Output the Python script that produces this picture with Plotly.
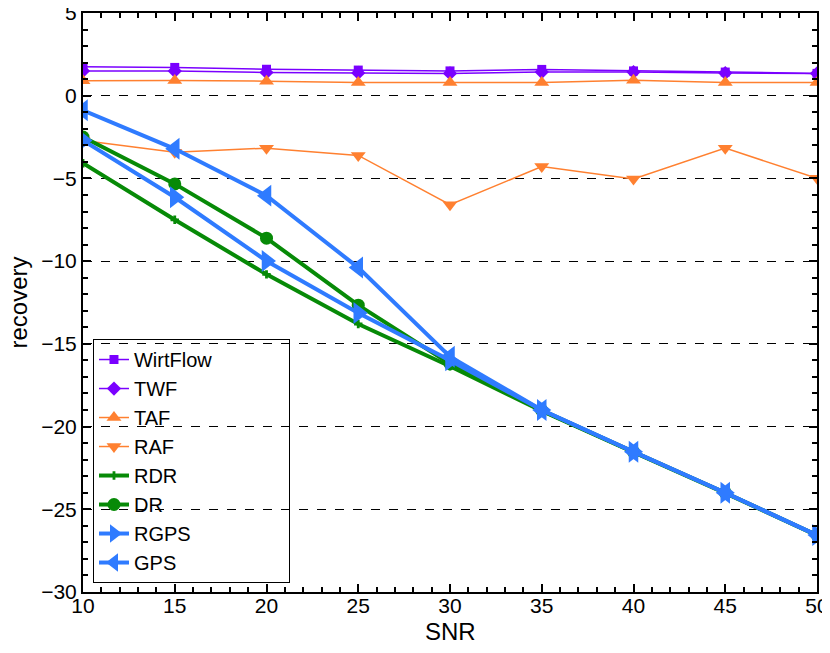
import plotly.graph_objects as go

# SNR values on the x axis
snr = [10, 15, 20, 25, 30, 35, 40, 45, 50]

# recovery per method
wirtflow = [1.75, 1.71, 1.60, 1.55, 1.50, 1.59, 1.50, 1.43, 1.35]
twf = [1.50, 1.49, 1.41, 1.38, 1.35, 1.43, 1.43, 1.37, 1.35]
taf = [0.90, 0.92, 0.88, 0.80, 0.80, 0.80, 0.94, 0.80, 0.80]
raf = [-2.70, -3.41, -3.17, -3.61, -6.59, -4.28, -5.03, -3.17, -4.99]
rdr = [-4.08, -7.50, -10.80, -13.80, -16.35, -19.05, -21.55, -24.02, -26.58]
dr = [-2.50, -5.33, -8.61, -12.66, -16.20, -19.02, -21.53, -24.00, -26.56]
rgps = [-2.70, -6.14, -9.99, -13.13, -16.00, -19.00, -21.52, -24.00, -26.56]
gps = [-0.88, -3.21, -6.04, -10.39, -15.78, -19.00, -21.52, -24.00, -26.56]

purple = "#7A00FF"
orange = "#FF8030"
green = "#078A07"
blue = "#2F7BFF"

series = [
    ("WirtFlow", wirtflow, purple, 1.5, "square", 9),
    ("TWF", twf, purple, 1.5, "diamond", 11),
    ("TAF", taf, orange, 1.5, "triangle-up", 13),
    ("RAF", raf, orange, 1.5, "triangle-down", 13),
    ("RDR", rdr, green, 4, "cross", 7),
    ("DR", dr, green, 4, "circle", 13),
    ("RGPS", rgps, blue, 4, "triangle-right", 19),
    ("GPS", gps, blue, 4, "triangle-left", 19),
]

fig = go.Figure()
for name, vals, color, lw, sym, size in series:
    # trailing non-breaking spaces widen the legend box like the reference
    label = name + "\u00a0" * 13 if name == "WirtFlow" else name
    fig.add_trace(go.Scatter(
        x=snr, y=vals, name=label, mode="lines+markers",
        line=dict(color=color, width=lw),
        marker=dict(symbol=sym, size=size, color=color, line=dict(width=0)),
        legendgroup=name,
    ))

family = "Liberation Sans, Arial, sans-serif"

# the page body adds an 8px margin, so the figure is shifted to match
fig.update_layout(
    width=822, height=637,
    margin=dict(l=75, r=13, t=5, b=53),
    paper_bgcolor="white", plot_bgcolor="white",
    font=dict(family=family, size=21, color="black"),
    showlegend=True,
    legend=dict(
        x=0.0136, y=0.0155, xanchor="left", yanchor="bottom",
        bgcolor="rgba(0,0,0,0)", bordercolor="black", borderwidth=1,
        traceorder="grouped", tracegroupgap=0,
        font=dict(family=family, size=20, color="black"),
    ),
    annotations=[
        dict(text="SNR", x=0.5, y=0, xref="paper", yref="paper",
             xanchor="center", yanchor="middle", yshift=-39, showarrow=False,
             font=dict(family=family, size=24, color="black")),
        dict(text="recovery", x=0, y=0.5, xref="paper", yref="paper",
             xanchor="center", yanchor="middle", xshift=-65, textangle=-90,
             showarrow=False, font=dict(family=family, size=24, color="black")),
    ],
)

fig.update_xaxes(
    range=[10, 50], dtick=5, tick0=10, automargin=False,
    ticklabeloverflow="allow", ticklabelstandoff=-6,
    showline=True, linecolor="black", linewidth=2, mirror="ticks",
    ticks="inside", ticklen=8, tickcolor="black", tickwidth=1.5,
    minor=dict(dtick=1, ticks="inside", ticklen=5, tickcolor="black", tickwidth=1.5),
    showgrid=False, zeroline=False,
)
fig.update_yaxes(
    range=[-30, 5], dtick=5, tick0=0, automargin=False,
    ticklabeloverflow="allow",
    showline=True, linecolor="black", linewidth=2, mirror="ticks",
    ticks="inside", ticklen=8, tickcolor="black", tickwidth=1.5,
    minor=dict(dtick=1, ticks="inside", ticklen=5, tickcolor="black", tickwidth=1.5),
    showgrid=True, gridcolor="black", gridwidth=1, griddash="dash",
    zeroline=False, tickformat="d",
)

fig.write_html("out.html")
